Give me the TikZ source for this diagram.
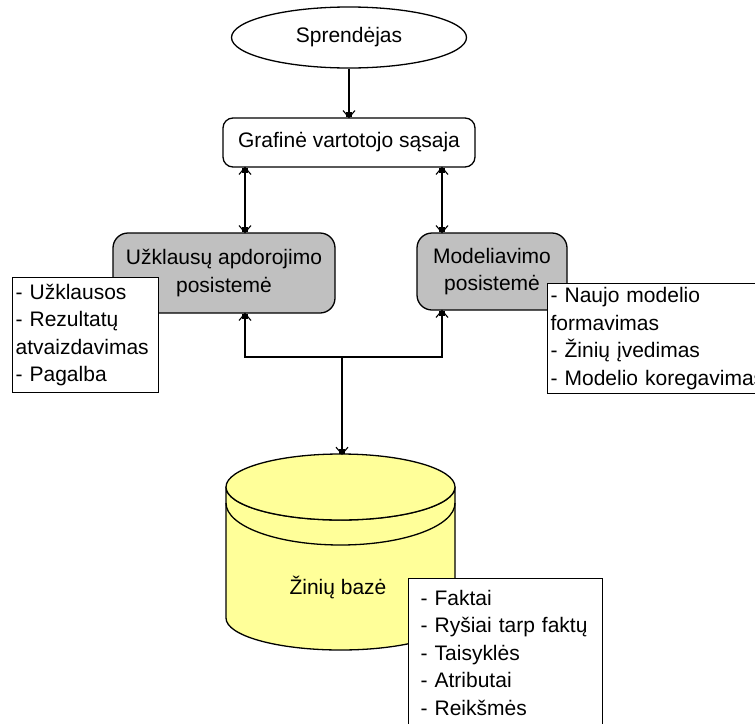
\documentclass[tikz,border=0pt]{standalone}
\usepackage{fontspec}
\setmainfont{Liberation Sans}
\usetikzlibrary{shapes.geometric,arrows.meta}
\definecolor{boxgray}{HTML}{C0C0C0}
\definecolor{kbyellow}{HTML}{FFFF99}
\tikzset{
  vbarb/.tip={Straight Barb[length=7pt,width=12pt,line width=1.1pt,sep=-6pt]Square[length=5pt,width=6pt]},
  txt/.style={font=\fontsize{21}{27.5}\selectfont},
  actor/.style={txt,draw,ellipse,fill=white,minimum width=235,minimum height=61,inner sep=0pt},
  guibox/.style={txt,draw,rounded corners=10pt,fill=white,minimum width=252,minimum height=49,inner sep=0pt},
  subsys/.style={txt,draw,rounded corners=15pt,fill=boxgray,align=center,inner sep=0pt},
  listbox/.style={txt,draw,fill=white,anchor=north west,align=left,inner xsep=3pt,inner ysep=0pt},
  conn/.style={-{vbarb}},
  biconn/.style={{vbarb}-{vbarb}}
}
\begin{document}
\begin{tikzpicture}[x=1pt,y=-1pt,line width=1.3pt]
\useasboundingbox (0,0) rectangle (755,723);
\clip (0,0) rectangle (755,723);

% vertical lines of the connectors
\coordinate (lx) at (245,0);
\coordinate (rx) at (442,0);
\coordinate (jn) at (342,357);

% user and interface
\node[actor] (user) at (349,37.5) {Sprendėjas};
\node[guibox] (gui) at (349,142.5) {Grafinė vartotojo sąsaja};

% subsystems
\node[subsys,minimum width=222,minimum height=80] (query) at (224,273) {Užklausų apdorojimo\\posistemė};
\node[subsys,minimum width=150,minimum height=77] (model) at (492,271.5) {Modeliavimo\\posistemė};

% knowledge base cylinder
\path[draw,fill=kbyellow] (226,487) -- (226,618)
  arc[start angle=180,end angle=0,x radius=114.5,y radius=32] -- (455,487)
  arc[start angle=0,end angle=180,x radius=114.5,y radius=33] -- cycle;
\path[draw,fill=kbyellow] (340.5,487) ellipse[x radius=114.5,y radius=33];
\draw (226,503) arc[start angle=180,end angle=0,x radius=114.5,y radius=42];
\coordinate (kbtop) at (342,454);
\node[txt] (kb) at (338,588) {Žinių bazė};

% connectors
\draw[conn] (user) -- (gui);
\draw[biconn] (gui.south -| lx) -- (query.north -| lx);
\draw[biconn] (gui.south -| rx) -- (model.north -| rx);
\draw[conn] (jn) -| (query.south -| lx);
\draw[conn] (jn) -| (model.south -| rx);
\draw[conn] (jn) -- (kbtop);

% notes
\node[listbox,minimum width=146,minimum height=115,text width=140] (qlist) at (12,277)
  {- Užklausos\\- Rezultatų\\atvaizdavimas\\- Pagalba};
\node[listbox,minimum width=240,minimum height=110,text width=234] (mlist) at (547,283)
  {- Naujo modelio\\formavimas\\- Žinių įvedimas\\- Modelio koregavimas};
\node[listbox,minimum width=194,minimum height=148,text width=170,inner xsep=12pt] (kblist) at (408,578)
  {- Faktai\\- Ryšiai tarp faktų\\- Taisyklės\\- Atributai\\- Reikšmės};
\end{tikzpicture}
\end{document}
